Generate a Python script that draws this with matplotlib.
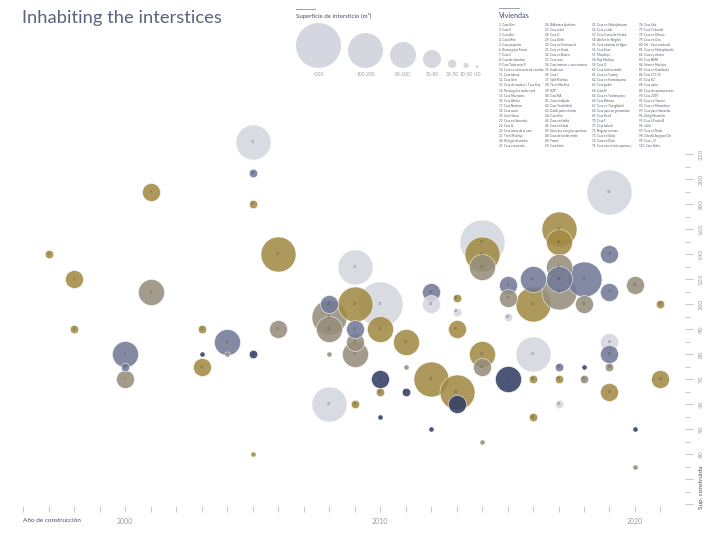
import matplotlib

matplotlib.use("Agg")
import matplotlib.pyplot as plt
import numpy as np

plt.rcParams["font.family"] = ["Lato", "DejaVu Sans"]

# ---- data -------------------------------------------------------------
house_ids = [2, 3, 4, 5, 6, 7, 8, 9, 10, 11, 12, 13, 14, 15, 16, 17, 18, 19,
             20, 21, 22, 23, 24, 25, 26, 27, 28, 29, 30, 31, 32,
             33, 34, 35, 36, 37, 38, 39, 40, 41, 42, 43, 44, 45, 46, 47, 48, 49,
             50, 51, 52, 53, 54, 55, 56, 57, 58, 59, 60, 61, 62, 63, 64,
             65, 66, 67, 68, 69, 70, 71, 72, 73, 74, 75, 76,
             94, 78, 79, 80, 81, 82, 83, 84, 85, 86, 87, 88]
years = [1997, 1998, 1998, 2000, 2000, 2000, 2001, 2001, 2003, 2003, 2003, 2004, 2004,
         2005, 2005, 2005, 2005, 2005, 2006, 2006,
         2008, 2008, 2008, 2008, 2008, 2009, 2009, 2009, 2009, 2009, 2009,
         2010, 2010, 2010, 2010, 2010, 2011, 2011, 2011, 2012, 2012, 2012, 2012,
         2013, 2013, 2013, 2013, 2013, 2014, 2014, 2014, 2014, 2014, 2014,
         2015, 2015, 2015, 2015, 2016, 2016, 2016, 2016, 2016,
         2017, 2017, 2017, 2017, 2017, 2017, 2017, 2017, 2018, 2018, 2018, 2018,
         2019, 2019, 2019, 2019, 2019, 2019, 2019, 2020, 2020, 2020, 2021, 2021]
areas = [140, 120, 90, 75, 80, 70, 110, 190, 75, 80, 90, 80, 85,
         230, 205, 180, 80, 40, 140, 90,
         60, 80, 90, 100, 95, 80, 60, 100, 85, 90, 130,
         100, 90, 70, 65, 55, 85, 75, 65, 110, 100, 70, 50,
         105, 97, 90, 65, 60, 150, 140, 130, 80, 75, 45,
         115, 105, 70, 95, 120, 100, 80, 70, 55,
         160, 150, 130, 120, 110, 75, 70, 60, 120, 100, 75, 70,
         190, 140, 110, 85, 80, 75, 65, 115, 50, 35, 100, 70]
interstice = ["30-50", "50-80", "30-50", "30-50", "80-100", "50-80", "80-100", "50-80",
              "50-80", "10-30", "30-50", "10-30", "80-100",
              "100-200", "30-50", "30-50", "30-50", "10-30", "100-200", "50-80",
              "100-200", "10-30", "80-100", "50-80", "100-200",
              "80-100", "30-50", "100-200", "50-80", "50-80", "100-200",
              ">200", "80-100", "50-80", "30-50", "10-30", "80-100", "10-30", "30-50",
              "50-80", "50-80", "100-200", "10-30",
              "30-50", "30-50", "50-80", "100-200", "50-80",
              ">200", "100-200", "80-100", "80-100", "50-80", "10-30",
              "50-80", "50-80", "80-100", "30-50",
              "80-100", "100-200", "100-200", "30-50", "30-50",
              "100-200", "80-100", "80-100", "80-100", "100-200", "30-50", "30-50", "30-50",
              "100-200", "50-80", "10-30", "30-50",
              ">200", "50-80", "50-80", "50-80", "50-80", "30-50", "50-80",
              "50-80", "10-30", "10-30", "30-50", "50-80"]
groups = ["gold", "gold", "gold", "slate", "slate", "taupe", "taupe", "gold",
          "gold", "navy", "gold", "taupe", "slate",
          "light", "slate", "gold", "navy", "gold", "gold", "taupe",
          "light", "taupe", "taupe", "slate", "taupe",
          "taupe", "gold", "gold", "taupe", "slate", "light",
          "light", "gold", "navy", "gold", "navy", "gold", "taupe", "navy",
          "slate", "light", "gold", "navy",
          "gold", "light", "gold", "gold", "navy",
          "light", "gold", "taupe", "gold", "taupe", "taupe",
          "slate", "taupe", "navy", "light",
          "slate", "gold", "light", "gold", "gold",
          "gold", "gold", "taupe", "slate", "taupe", "slate", "gold", "light",
          "slate", "taupe", "navy", "taupe",
          "light", "slate", "slate", "light", "slate", "taupe", "gold",
          "taupe", "navy", "taupe", "gold", "gold"]

size_classes = [">200", "100-200", "80-100", "50-80", "30-50", "10-30", "<10"]

y_ticks = [220, 200, 180, 160, 140, 120, 100, 90, 80, 70, 60, 50, 40, 30, 20]
y_minor = [210, 190, 170, 150, 130, 110, 95, 85, 75, 65, 55, 45, 35, 25]
y_ticklabels = ["220", "200", "180", "160", "140", "120", "100",
                "90", "80", "70", "60", "50", "40", "", ""]
x_ticks = list(range(1996, 2022))
x_ticklabels = [str(y) if y % 10 == 0 else "" for y in x_ticks]

viviendas = [
    "Casa Kim", "Casa S", "Casa Ani", "Casa Mini", "Casa pequeña",
    "Rectangular Forest", "Casa C", "Casa de aluminio", "Casa Tolerancia V",
    "Casa en un huerto de ciruelos", "Casa tahara", "Casa Gen",
    "Casa de madera / Casa Koy", "Rectangular under roof", "Casa Moriyama",
    "Casa Atelier", "Casa Noshiro", "Casa amor", "Lino House",
    "Casa en Saturado", "Casa A", "Casa antes de la casa", "Treel Machiya",
    "Refugio de piedra", "Casa enroscada",
    "Biblioteca Audrime", "Casa árbol", "Casa O", "Casa Delle",
    "Casa en Horinouchi", "Casa en Koda", "Casa en Buzen", "Casa rosa",
    "Casa interior + casa exterior", "Inside out", "Casa I", "Split Machiya",
    "Torre Machiya", "HZP", "Casa NA", "Casa en Apolo", "Casa Tsuchifield",
    "Doble patio circular", "Casa Kim", "Casa en Hatfai", "Casa en Hada",
    "Una casa con gran apertura", "Casa de borde verde", "Frame", "Casa kinta",
    "Casa en Shakujiikouen", "Casa y calle", "Casa Cueva de Hiedra",
    "Atelier en Negishi", "Casa adosada en Ageo", "Casa Kura", "Moyakiya",
    "Roji Machiya", "Casa O", "Casa transversable", "Casa en Yutenji",
    "Casa en Hamadayama", "Casa jardín", "Casa N", "Casa en Toshimyama",
    "Casa Blemen", "Casa en Yanagibashi", "Casa para un germanista",
    "Casa Bend", "Casa F", "Casa balcón", "Nagano no mae", "Casa en Sakai",
    "Casa en Daio", "Casa con celosía apertura",
    "Casa Sala", "Casa Todoroki", "Casa en Kikuna", "Casa en Ozu",
    "Shi - Casa cuadrada", "Casa en Shakujiimachi", "Curva y chorro",
    "Casa NMH", "Science Machiya", "Casa en Kamitsuka", "Casa CLT 10",
    "Casa K2", "Casa patio", "Casa de apartamentos", "Casa 2019",
    "Casa en Tarumi", "Casa en Musashino", "Casa para Hamachu",
    "Zenig Mountain", "Casa S Fanda B", "raOri", "Casa en Nada",
    "Cabaña Asagami Chi", "Casa + O", "Casa Haha",
]

# ---- styling ----------------------------------------------------------
RADIUS_PX = {">200": 22.5, "100-200": 17.5, "80-100": 13, "50-80": 9,
             "30-50": 4.2, "10-30": 2.6, "<10": 1.5}
COLORS = {"gold": "#a38b45", "taupe": "#978f7c", "slate": "#737a98",
          "navy": "#323e66", "light": "#d4d7df"}
NAVY_TEXT = "#454c6c"
GRAY_TEXT = "#9a9ca6"
TICK_COLOR = "#c9cbd2"


def area_to_pos(v):
    return np.interp(v, [0, 100, 400], [-10, 0, 15])


def pos_to_area(p):
    return np.interp(p, [-10, 0, 15], [0, 100, 400])


def marker_size(radius_px):
    return (2 * radius_px * 0.72) ** 2


W, H = 720, 540
fig = plt.figure(figsize=(7.2, 5.4), dpi=100)

# decoration layer in pixel coordinates
deco = fig.add_axes([0, 0, 1, 1])
deco.set_xlim(0, W)
deco.set_ylim(H, 0)
deco.axis("off")

# main chart
right_px, bottom_px = 685, 506
ax = fig.add_axes([0, (H - bottom_px) / H, right_px / W, bottom_px / H])
ax.patch.set_visible(False)
ax.set_yscale("function", functions=(area_to_pos, pos_to_area))
ax.set_xlim(2000 - 125 / 25.5, 2000 + (right_px - 125) / 25.5)
ax.set_ylim(pos_to_area((304 - bottom_px) / 25), pos_to_area(304 / 25))

order = np.argsort([-RADIUS_PX[s] for s in interstice], kind="stable")
for i in order:
    r = RADIUS_PX[interstice[i]]
    ax.scatter(years[i], areas[i], s=marker_size(r), color=COLORS[groups[i]],
               alpha=0.88, edgecolors="white", linewidths=0.4, zorder=2)
    if r >= 4:
        ax.text(years[i], areas[i], str(house_ids[i]), fontsize=2.6,
                color="#3a3a3a", alpha=0.6, ha="center", va="center", zorder=3)

for side in ["left", "right", "top", "bottom"]:
    ax.spines[side].set_visible(False)

ax.yaxis.tick_right()
ax.set_yticks(y_ticks)
ax.set_yticklabels(y_ticklabels)
ax.set_yticks(y_minor, minor=True)
ax.tick_params(axis="y", which="major", direction="out", length=5.8, width=0.8,
               color=TICK_COLOR, pad=4, labelsize=4.6, labelcolor=GRAY_TEXT,
               labelrotation=90)
ax.tick_params(axis="y", which="minor", direction="out", length=3.4, width=0.8,
               color=TICK_COLOR)
for lbl in ax.get_yticklabels():
    lbl.set_verticalalignment("center")

ax.set_xticks(x_ticks)
ax.set_xticklabels(x_ticklabels)
ax.tick_params(axis="x", which="major", direction="out", length=4.5, width=0.8,
               color=TICK_COLOR, pad=4, labelsize=5, labelcolor=GRAY_TEXT)
ax.tick_params(axis="x", which="minor", length=0)

deco.text(23, 520, "Año de construcción", fontsize=4.6, color=NAVY_TEXT,
          ha="left", va="center")
deco.text(701, 487, "Sup. construida", fontsize=4.6, color=NAVY_TEXT,
          rotation=90, ha="center", va="center")

# title
deco.text(22, 18, "Inhabiting the interstices", fontsize=13.2, color="#5b6279",
          ha="left", va="center")

# size legend
deco.plot([296, 315], [9, 9], color="#8a8fa3", lw=0.6)
deco.text(296, 16, "Superficie de intersticio (m²)", fontsize=4.4,
          color=NAVY_TEXT, ha="left", va="center")
x_edge = 296
for label in size_classes:
    r = RADIUS_PX[label]
    cx = x_edge + r
    deco.scatter(cx, 68 - r, s=marker_size(r), color=COLORS["light"],
                 edgecolors="none")
    deco.text(cx, 74, label, fontsize=3.5, color=GRAY_TEXT,
              ha="center", va="center")
    x_edge = cx + r + 7

# house list
deco.plot([499, 519], [8, 8], color="#8a8fa3", lw=0.6)
deco.text(499, 15, "Viviendas", fontsize=5.2, color=NAVY_TEXT,
          ha="left", va="center")
col_x = [499, 545, 592, 639]
for k, name in enumerate(viviendas):
    col, row = divmod(k, 25)
    deco.text(col_x[col], 25 + row * 5.04, f"{k + 1}. {name}", fontsize=2.15,
              family=["Liberation Sans Narrow", "Lato", "DejaVu Sans"],
              color="#55596a", ha="left", va="center")

fig.savefig("out.png", dpi=100)
plt.close(fig)
